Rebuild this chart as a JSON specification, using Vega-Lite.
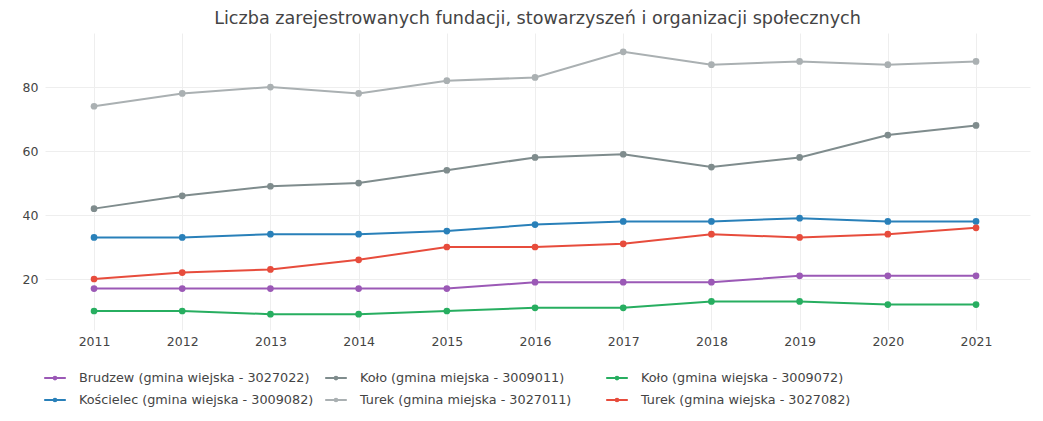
{
  "$schema": "https://vega.github.io/schema/vega-lite/v6.json",
  "autosize": "none",
  "width": 985,
  "height": 297,
  "padding": {"left": 45, "top": 33, "right": 13, "bottom": 91},
  "background": "white",
  "config": {
    "font": "DejaVu Sans",
    "view": {"stroke": null},
    "axis": {"domain": false, "ticks": false, "gridColor": "#eeeeee", "gridWidth": 1, "labelColor": "#444444", "labelFontSize": 12.5, "labelFont": "DejaVu Sans", "title": null}
  },
  "title": {
    "text": "Liczba zarejestrowanych fundacji, stowarzyszeń i organizacji społecznych",
    "font": "DejaVu Sans",
    "fontSize": 17.6,
    "fontWeight": "normal",
    "color": "#444444",
    "anchor": "middle",
    "offset": 5
  },
  "data": {
    "values": [
      {"rok": 2011, "gmina": "Brudzew (gmina wiejska - 3027022)", "liczba": 17},
      {"rok": 2012, "gmina": "Brudzew (gmina wiejska - 3027022)", "liczba": 17},
      {"rok": 2013, "gmina": "Brudzew (gmina wiejska - 3027022)", "liczba": 17},
      {"rok": 2014, "gmina": "Brudzew (gmina wiejska - 3027022)", "liczba": 17},
      {"rok": 2015, "gmina": "Brudzew (gmina wiejska - 3027022)", "liczba": 17},
      {"rok": 2016, "gmina": "Brudzew (gmina wiejska - 3027022)", "liczba": 19},
      {"rok": 2017, "gmina": "Brudzew (gmina wiejska - 3027022)", "liczba": 19},
      {"rok": 2018, "gmina": "Brudzew (gmina wiejska - 3027022)", "liczba": 19},
      {"rok": 2019, "gmina": "Brudzew (gmina wiejska - 3027022)", "liczba": 21},
      {"rok": 2020, "gmina": "Brudzew (gmina wiejska - 3027022)", "liczba": 21},
      {"rok": 2021, "gmina": "Brudzew (gmina wiejska - 3027022)", "liczba": 21},
      {"rok": 2011, "gmina": "Koło (gmina miejska - 3009011)", "liczba": 42},
      {"rok": 2012, "gmina": "Koło (gmina miejska - 3009011)", "liczba": 46},
      {"rok": 2013, "gmina": "Koło (gmina miejska - 3009011)", "liczba": 49},
      {"rok": 2014, "gmina": "Koło (gmina miejska - 3009011)", "liczba": 50},
      {"rok": 2015, "gmina": "Koło (gmina miejska - 3009011)", "liczba": 54},
      {"rok": 2016, "gmina": "Koło (gmina miejska - 3009011)", "liczba": 58},
      {"rok": 2017, "gmina": "Koło (gmina miejska - 3009011)", "liczba": 59},
      {"rok": 2018, "gmina": "Koło (gmina miejska - 3009011)", "liczba": 55},
      {"rok": 2019, "gmina": "Koło (gmina miejska - 3009011)", "liczba": 58},
      {"rok": 2020, "gmina": "Koło (gmina miejska - 3009011)", "liczba": 65},
      {"rok": 2021, "gmina": "Koło (gmina miejska - 3009011)", "liczba": 68},
      {"rok": 2011, "gmina": "Koło (gmina wiejska - 3009072)", "liczba": 10},
      {"rok": 2012, "gmina": "Koło (gmina wiejska - 3009072)", "liczba": 10},
      {"rok": 2013, "gmina": "Koło (gmina wiejska - 3009072)", "liczba": 9},
      {"rok": 2014, "gmina": "Koło (gmina wiejska - 3009072)", "liczba": 9},
      {"rok": 2015, "gmina": "Koło (gmina wiejska - 3009072)", "liczba": 10},
      {"rok": 2016, "gmina": "Koło (gmina wiejska - 3009072)", "liczba": 11},
      {"rok": 2017, "gmina": "Koło (gmina wiejska - 3009072)", "liczba": 11},
      {"rok": 2018, "gmina": "Koło (gmina wiejska - 3009072)", "liczba": 13},
      {"rok": 2019, "gmina": "Koło (gmina wiejska - 3009072)", "liczba": 13},
      {"rok": 2020, "gmina": "Koło (gmina wiejska - 3009072)", "liczba": 12},
      {"rok": 2021, "gmina": "Koło (gmina wiejska - 3009072)", "liczba": 12},
      {"rok": 2011, "gmina": "Kościelec (gmina wiejska - 3009082)", "liczba": 33},
      {"rok": 2012, "gmina": "Kościelec (gmina wiejska - 3009082)", "liczba": 33},
      {"rok": 2013, "gmina": "Kościelec (gmina wiejska - 3009082)", "liczba": 34},
      {"rok": 2014, "gmina": "Kościelec (gmina wiejska - 3009082)", "liczba": 34},
      {"rok": 2015, "gmina": "Kościelec (gmina wiejska - 3009082)", "liczba": 35},
      {"rok": 2016, "gmina": "Kościelec (gmina wiejska - 3009082)", "liczba": 37},
      {"rok": 2017, "gmina": "Kościelec (gmina wiejska - 3009082)", "liczba": 38},
      {"rok": 2018, "gmina": "Kościelec (gmina wiejska - 3009082)", "liczba": 38},
      {"rok": 2019, "gmina": "Kościelec (gmina wiejska - 3009082)", "liczba": 39},
      {"rok": 2020, "gmina": "Kościelec (gmina wiejska - 3009082)", "liczba": 38},
      {"rok": 2021, "gmina": "Kościelec (gmina wiejska - 3009082)", "liczba": 38},
      {"rok": 2011, "gmina": "Turek (gmina miejska - 3027011)", "liczba": 74},
      {"rok": 2012, "gmina": "Turek (gmina miejska - 3027011)", "liczba": 78},
      {"rok": 2013, "gmina": "Turek (gmina miejska - 3027011)", "liczba": 80},
      {"rok": 2014, "gmina": "Turek (gmina miejska - 3027011)", "liczba": 78},
      {"rok": 2015, "gmina": "Turek (gmina miejska - 3027011)", "liczba": 82},
      {"rok": 2016, "gmina": "Turek (gmina miejska - 3027011)", "liczba": 83},
      {"rok": 2017, "gmina": "Turek (gmina miejska - 3027011)", "liczba": 91},
      {"rok": 2018, "gmina": "Turek (gmina miejska - 3027011)", "liczba": 87},
      {"rok": 2019, "gmina": "Turek (gmina miejska - 3027011)", "liczba": 88},
      {"rok": 2020, "gmina": "Turek (gmina miejska - 3027011)", "liczba": 87},
      {"rok": 2021, "gmina": "Turek (gmina miejska - 3027011)", "liczba": 88},
      {"rok": 2011, "gmina": "Turek (gmina wiejska - 3027082)", "liczba": 20},
      {"rok": 2012, "gmina": "Turek (gmina wiejska - 3027082)", "liczba": 22},
      {"rok": 2013, "gmina": "Turek (gmina wiejska - 3027082)", "liczba": 23},
      {"rok": 2014, "gmina": "Turek (gmina wiejska - 3027082)", "liczba": 26},
      {"rok": 2015, "gmina": "Turek (gmina wiejska - 3027082)", "liczba": 30},
      {"rok": 2016, "gmina": "Turek (gmina wiejska - 3027082)", "liczba": 30},
      {"rok": 2017, "gmina": "Turek (gmina wiejska - 3027082)", "liczba": 31},
      {"rok": 2018, "gmina": "Turek (gmina wiejska - 3027082)", "liczba": 34},
      {"rok": 2019, "gmina": "Turek (gmina wiejska - 3027082)", "liczba": 33},
      {"rok": 2020, "gmina": "Turek (gmina wiejska - 3027082)", "liczba": 34},
      {"rok": 2021, "gmina": "Turek (gmina wiejska - 3027082)", "liczba": 36}
    ]
  },
  "encoding": {
    "x": {
      "field": "rok", "type": "quantitative",
      "scale": {"domain": [2010.444, 2021.612], "nice": false, "zero": false},
      "axis": {"values": [2011, 2012, 2013, 2014, 2015, 2016, 2017, 2018, 2019, 2020, 2021], "format": "d", "labelFlush": false, "labelPadding": 5, "grid": true}
    },
    "y": {
      "field": "liczba", "type": "quantitative",
      "scale": {"domain": [4.06, 96.9], "nice": false, "zero": false},
      "axis": {"values": [20, 40, 60, 80], "labelPadding": 7, "grid": true}
    },
    "color": {
      "field": "gmina", "type": "nominal",
      "scale": {
        "domain": ["Brudzew (gmina wiejska - 3027022)", "Koło (gmina miejska - 3009011)", "Koło (gmina wiejska - 3009072)", "Kościelec (gmina wiejska - 3009082)", "Turek (gmina miejska - 3027011)", "Turek (gmina wiejska - 3027082)"],
        "range": ["#9b59b6", "#7f8c8d", "#27ae60", "#2980b9", "#aab0b2", "#e74c3c"]
      },
      "legend": {
        "title": null,
        "orient": "none",
        "legendX": 0,
        "legendY": 335,
        "direction": "horizontal",
        "columns": 3,
        "gridAlign": "all",
        "columnPadding": 7,
        "rowPadding": 5,
        "labelFontSize": 12.8,
        "labelFont": "DejaVu Sans",
        "labelColor": "#444444",
        "labelLimit": 400,
        "symbolType": "M-1.2,0L1.2,0M-0.15,0a0.15,0.15 0 1,0 0.3,0a0.15,0.15 0 1,0 -0.3,0",
        "symbolSize": 324,
        "symbolStrokeWidth": 2,
        "labelOffset": 14
      }
    }
  },
  "layer": [
    {"mark": {"type": "line", "strokeWidth": 2}},
    {"mark": {"type": "point", "filled": true, "size": 45, "opacity": 1}}
  ]
}
